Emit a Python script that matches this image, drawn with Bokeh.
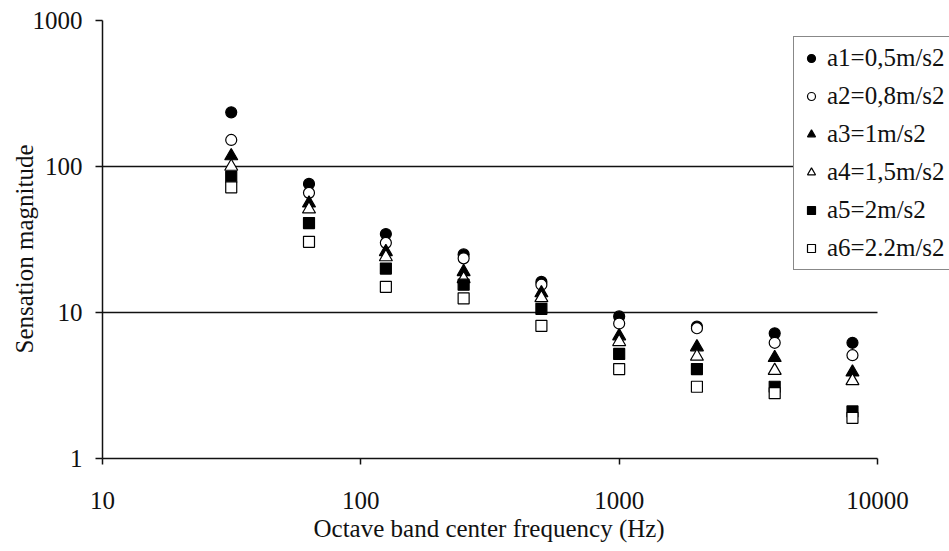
import math
from bokeh.plotting import figure
from bokeh.models import (FixedTicker, NumeralTickFormatter, Legend, LegendItem,
                          Title, ColumnDataSource, Range1d)
from bokeh.embed import file_html
from bokeh.resources import INLINE

# ---- data ----
freq = [31.5, 63, 125, 250, 500, 1000, 2000, 4000, 8000]
a1 = [235, 76, 34.5, 25, 16.2, 9.4, 8.0, 7.2, 6.2]
a2 = [152, 66, 30, 23.5, 15.5, 8.4, 7.8, 6.2, 5.1]
a3 = [118, 56, 26, 19, 13.6, 6.9, 5.8, 4.9, 3.9]
a4 = [100, 51, 24, 17, 12.6, 6.3, 5.0, 4.0, 3.4]
a5 = [85, 41, 20, 15.5, 10.6, 5.2, 4.1, 3.1, 2.1]
a6 = [72, 30.5, 15, 12.5, 8.1, 4.1, 3.1, 2.8, 1.9]
series_labels = ["a1=0,5m/s2", "a2=0,8m/s2", "a3=1m/s2",
                 "a4=1,5m/s2", "a5=2m/s2", "a6=2.2m/s2"]
x_ticks = [10, 100, 1000, 10000]
y_ticks = [1, 10, 100, 1000]
grid_values = [10, 100]
x_title = "Octave band center frequency (Hz)"
y_title = "Sensation magnitude"

FONT = "Liberation Serif"
FS = "25px"

# layout: axis 10..10000 occupies 775 px; frame continues 72 px further right
LEFT, AXIS_W, EXTRA = 102, 775, 72
x_end = 10 ** (math.log10(x_ticks[-1]) +
               EXTRA * (math.log10(x_ticks[-1]) - math.log10(x_ticks[0])) / AXIS_W)

p = figure(width=949, height=551, x_axis_type="log", y_axis_type="log",
           x_range=Range1d(x_ticks[0], x_end), y_range=Range1d(1, 1000),
           output_backend="svg", toolbar_location=None,
           min_border_left=LEFT, min_border_right=0,
           min_border_top=20, min_border_bottom=93)
p.outline_line_color = None
p.background_fill_color = "white"
p.border_fill_color = "white"

styles = [
    dict(marker="circle", size=11, fill_color="black"),
    dict(marker="circle", size=11, fill_color="white"),
    dict(marker="triangle", size=13, fill_color="black"),
    dict(marker="triangle", size=13, fill_color="white"),
    dict(marker="square", size=11, fill_color="black"),
    dict(marker="square", size=11, fill_color="white"),
]
items = []
for lab, ys, st in zip(series_labels, [a1, a2, a3, a4, a5, a6], styles):
    src = ColumnDataSource(dict(x=freq, y=ys))
    r = p.scatter("x", "y", source=src, marker=st["marker"], size=st["size"],
                  fill_color=st["fill_color"], line_color="black", line_width=1.2)
    items.append(LegendItem(label=lab, renderers=[r]))

# axes
for ax in (p.xaxis[0], p.yaxis[0]):
    ax.axis_line_color = "#111111"
    ax.axis_line_width = 1.5
    ax.major_tick_line_color = "#111111"
    ax.major_tick_line_width = 1.5
    ax.major_tick_in = 0
    ax.minor_tick_line_color = None
    ax.major_label_text_font = FONT
    ax.major_label_text_font_size = FS
    ax.major_label_text_color = "#111111"
    ax.formatter = NumeralTickFormatter(format="0")

p.xaxis.ticker = FixedTicker(ticks=x_ticks)
p.yaxis.ticker = FixedTicker(ticks=y_ticks)
p.xaxis.bounds = (x_ticks[0], x_ticks[-1])
p.xaxis.major_tick_out = 6
p.yaxis.major_tick_out = 7
p.xaxis.major_label_standoff = 27
p.yaxis.major_label_standoff = 13

xt = Title(text=x_title, align="left", offset=211, vertical_align="bottom",
           standoff=2, text_font=FONT, text_font_size=FS,
           text_font_style="normal", text_color="#111111")
p.add_layout(xt, "below")

yt = Title(text=y_title, align="left", offset=105,
           vertical_align="bottom", standoff=-16,
           text_font=FONT, text_font_size=FS,
           text_font_style="normal", text_color="#111111")
p.add_layout(yt, "left")

# grid
p.xgrid.grid_line_color = None
p.ygrid.ticker = FixedTicker(ticks=grid_values)
p.ygrid.cross_bounds = (x_ticks[0], x_ticks[-1])
p.ygrid.grid_line_color = "#111111"
p.ygrid.grid_line_width = 1.5

legend = Legend(items=items, location=(691, 188),
                label_text_font=FONT, label_text_font_size=FS,
                label_text_color="#111111",
                glyph_width=20, glyph_height=28, label_height=28,
                label_width=125,
                label_standoff=6, spacing=10, padding=7, margin=0,
                border_line_color="#111111", border_line_width=1.5,
                background_fill_color="white", background_fill_alpha=1.0)
p.add_layout(legend, "center")

open("out.html", "w").write(file_html(p, INLINE))
